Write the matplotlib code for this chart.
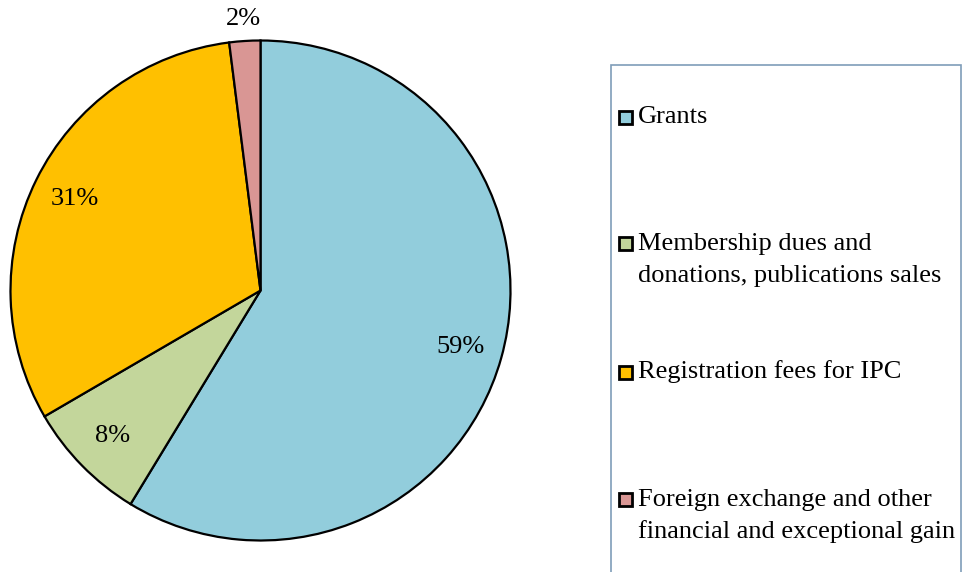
import matplotlib.pyplot as plt
from matplotlib.patches import Rectangle

plt.rcParams["font.family"] = ["Liberation Serif", "DejaVu Serif"]

labels = [
    "Grants",
    "Membership dues and\ndonations, publications sales",
    "Registration fees for IPC",
    "Foreign exchange and other\nfinancial and exceptional gain",
]
shares = [58.7, 7.9, 31.4, 2.0]
colors = ["#92CDDC", "#C3D69B", "#FFC000", "#D99694"]

W, H = 964, 572
fig = plt.figure(figsize=(W / 100, H / 100), dpi=100)

# pie axes: centre (260.5, 290.5), radius 250 px
cx, cy, r = 260.5, 290.5, 250
ax = fig.add_axes([(cx - r) / W, 1 - (cy + r) / H, 2 * r / W, 2 * r / H])
wedges, _, pct = ax.pie(
    shares,
    colors=colors,
    startangle=90,
    counterclock=False,
    autopct="%.0f%%",
    pctdistance=0.83,
    wedgeprops=dict(edgecolor="black", linewidth=1.6),
    textprops=dict(fontsize=19, color="black"),
)
ax.set_xlim(-1, 1)
ax.set_ylim(-1, 1)
ax.set_aspect("equal")
# small slice label sits outside the pie
x2, y2 = pct[3].get_position()
pct[3].set_position((x2 * 1.31, y2 * 1.31))


def px(x, y):
    return x / W, 1 - y / H


# legend frame, cut off at the bottom like the original
box_l, box_t, box_r = 611, 65, 961
frame = Rectangle(px(box_l, H + 10), (box_r - box_l) / W, (H + 10 - box_t) / H,
                  transform=fig.transFigure, facecolor="white",
                  edgecolor="#7F9DB9", linewidth=1.2, clip_on=False)
fig.patches.append(frame)

entry_y = [117, 260, 372, 516]
for lab, col, y in zip(labels, colors, entry_y):
    first_line = y if "\n" not in lab else y - 17
    sq = 13
    fig.patches.append(Rectangle(px(618.5, first_line + sq / 2), sq / W, sq / H,
                                 transform=fig.transFigure, facecolor=col,
                                 edgecolor="black", linewidth=2))
    fig.text(*px(638, y), lab, fontsize=19, va="center", ha="left",
             linespacing=1.55)

fig.savefig("out.png", dpi=100)
